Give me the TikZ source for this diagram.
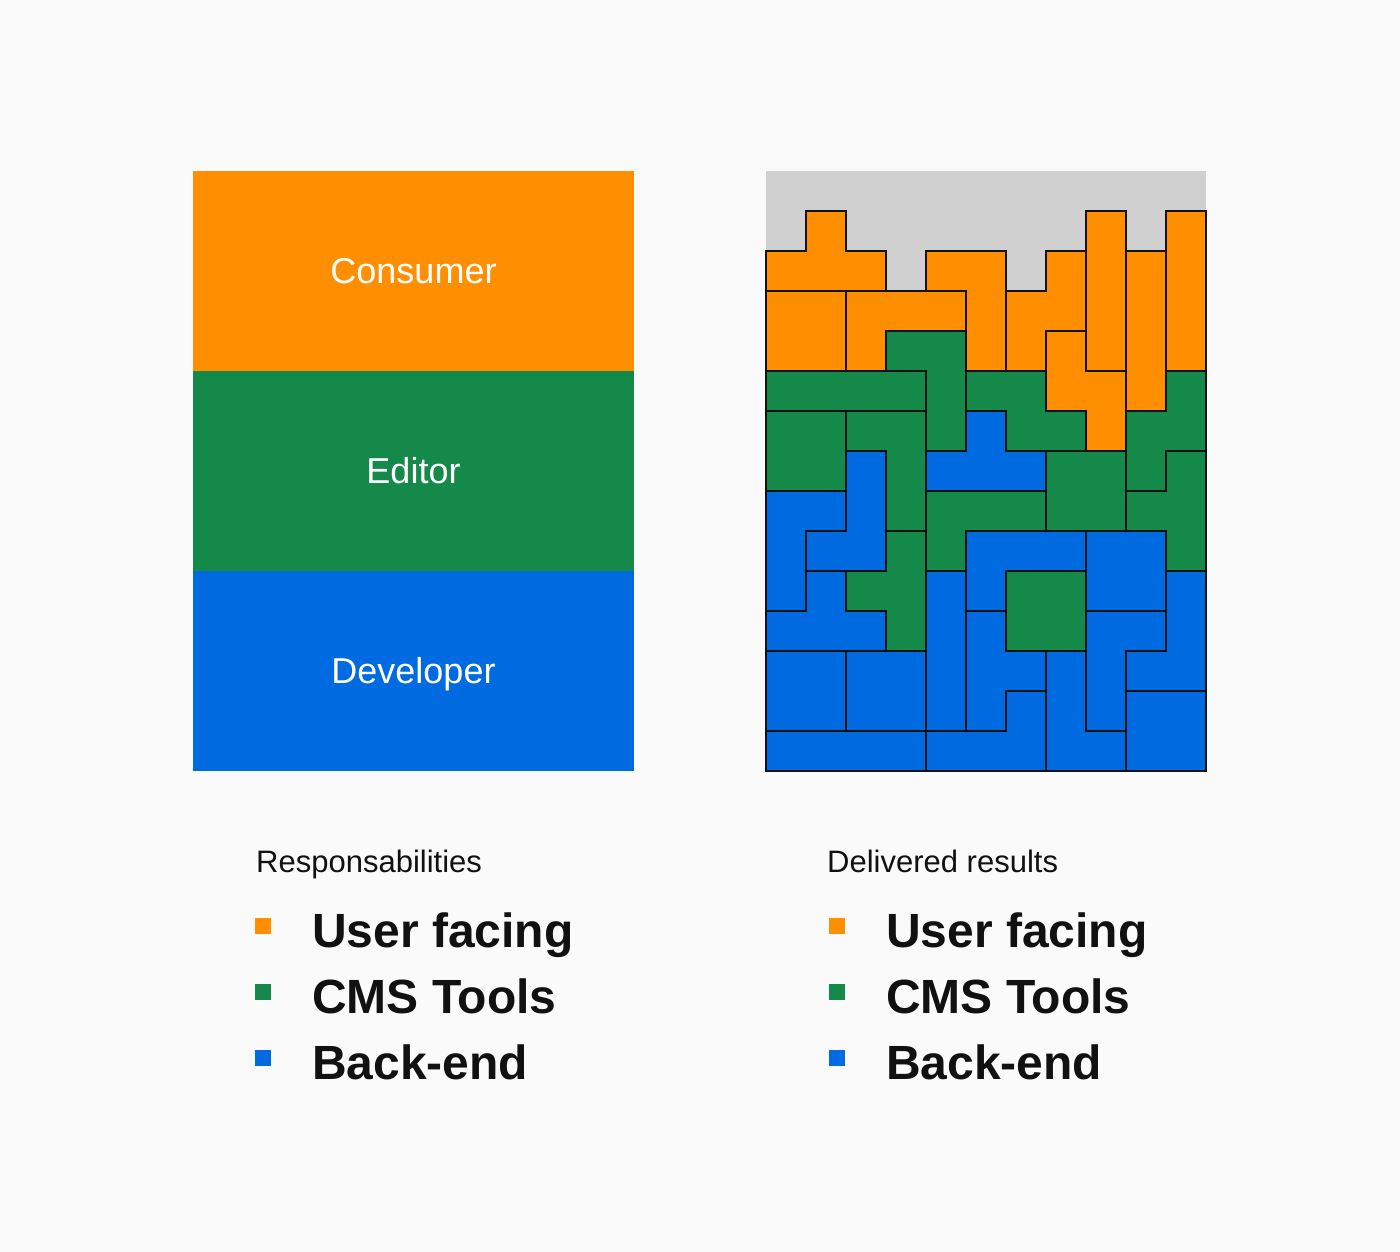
\documentclass[tikz,border=0pt]{standalone}
\usepackage{fontspec}
\setmainfont{Liberation Sans}
\definecolor{bg}{HTML}{FAFAFA}
\definecolor{ora}{HTML}{FF8F00}
\definecolor{grn}{HTML}{15894A}
\definecolor{blu}{HTML}{006AE0}
\definecolor{gry}{HTML}{D0D0D0}
\definecolor{ink}{HTML}{111111}
\begin{document}
\begin{tikzpicture}[x=1pt,y=-1pt,
  pc/.style={draw=ink,line width=1.4pt,line join=miter},
  po/.style={pc,fill=ora},
  pg/.style={pc,fill=grn},
  pb/.style={pc,fill=blu},
  band/.style={text=white,font=\fontsize{36}{36}\selectfont,anchor=base,inner sep=0pt},
  head/.style={text=ink,font=\fontsize{31}{31}\selectfont,anchor=base west,inner sep=0pt},
  item/.style={text=ink,font=\bfseries\fontsize{48}{48}\selectfont,anchor=base west,inner sep=0pt},
  sw/.style={minimum size=16pt,inner sep=0pt,outer sep=0pt,anchor=north west}]
\fill[bg] (0,0) rectangle (1400,1252);
\useasboundingbox (0,0) rectangle (1400,1252);
% left panel
\fill[ora] (193,171) rectangle (634,371);
\fill[grn] (193,371) rectangle (634,571);
\fill[blu] (193,571) rectangle (634,771);
\node[band] (consumer) at (413.5,283) {Consumer};
\node[band] (editor) at (413.5,483) {Editor};
\node[band] (developer) at (413.5,683) {Developer};
% right grid
\begin{scope}[shift={(766,171)},x=40pt,y=-40pt]
\fill[gry] (0,0) rectangle (11,15);
% orange
\draw[po] (1,1)--(2,1)--(2,2)--(3,2)--(3,3)--(0,3)--(0,2)--(1,2)--cycle;
\draw[po] (4,2)--(6,2)--(6,5)--(5,5)--(5,3)--(4,3)--cycle;
\draw[po] (0,3)--(2,3)--(2,5)--(0,5)--cycle;
\draw[po] (2,3)--(5,3)--(5,4)--(3,4)--(3,5)--(2,5)--cycle;
\draw[po] (7,2)--(8,2)--(8,4)--(7,4)--(7,5)--(6,5)--(6,3)--(7,3)--cycle;
\draw[po] (8,1)--(9,1)--(9,5)--(8,5)--cycle;
\draw[po] (9,2)--(10,2)--(10,6)--(9,6)--cycle;
\draw[po] (10,1)--(11,1)--(11,5)--(10,5)--cycle;
\draw[po] (7,4)--(8,4)--(8,5)--(9,5)--(9,7)--(8,7)--(8,6)--(7,6)--cycle;
% green
\draw[pg] (3,4)--(5,4)--(5,7)--(4,7)--(4,5)--(3,5)--cycle;
\draw[pg] (0,5)--(4,5)--(4,6)--(0,6)--cycle;
\draw[pg] (5,5)--(7,5)--(7,6)--(8,6)--(8,7)--(6,7)--(6,6)--(5,6)--cycle;
\draw[pg] (10,5)--(11,5)--(11,7)--(10,7)--(10,8)--(9,8)--(9,6)--(10,6)--cycle;
\draw[pg] (0,6)--(2,6)--(2,8)--(0,8)--cycle;
\draw[pg] (2,6)--(4,6)--(4,9)--(3,9)--(3,7)--(2,7)--cycle;
\draw[pg] (4,8)--(7,8)--(7,9)--(5,9)--(5,10)--(4,10)--cycle;
\draw[pg] (7,7)--(9,7)--(9,9)--(7,9)--cycle;
\draw[pg] (10,7)--(11,7)--(11,10)--(10,10)--(10,9)--(9,9)--(9,8)--(10,8)--cycle;
\draw[pg] (3,9)--(4,9)--(4,12)--(3,12)--(3,11)--(2,11)--(2,10)--(3,10)--cycle;
\draw[pg] (6,10)--(8,10)--(8,12)--(6,12)--cycle;
% blue
\draw[pb] (5,6)--(6,6)--(6,7)--(7,7)--(7,8)--(4,8)--(4,7)--(5,7)--cycle;
\draw[pb] (2,7)--(3,7)--(3,10)--(1,10)--(1,9)--(2,9)--cycle;
\draw[pb] (0,8)--(2,8)--(2,9)--(1,9)--(1,11)--(0,11)--cycle;
\draw[pb] (5,9)--(8,9)--(8,10)--(6,10)--(6,11)--(5,11)--cycle;
\draw[pb] (8,9)--(10,9)--(10,11)--(8,11)--cycle;
\draw[pb] (1,10)--(2,10)--(2,11)--(3,11)--(3,12)--(0,12)--(0,11)--(1,11)--cycle;
\draw[pb] (4,10)--(5,10)--(5,14)--(4,14)--cycle;
\draw[pb] (5,11)--(6,11)--(6,12)--(7,12)--(7,13)--(6,13)--(6,14)--(5,14)--cycle;
\draw[pb] (6,13)--(7,13)--(7,15)--(4,15)--(4,14)--(6,14)--cycle;
\draw[pb] (7,12)--(8,12)--(8,14)--(9,14)--(9,15)--(7,15)--cycle;
\draw[pb] (8,11)--(10,11)--(10,12)--(9,12)--(9,14)--(8,14)--cycle;
\draw[pb] (10,10)--(11,10)--(11,13)--(9,13)--(9,12)--(10,12)--cycle;
\draw[pb] (9,13)--(11,13)--(11,15)--(9,15)--cycle;
\draw[pb] (0,12)--(2,12)--(2,14)--(0,14)--cycle;
\draw[pb] (2,12)--(4,12)--(4,14)--(2,14)--cycle;
\draw[pb] (0,14)--(4,14)--(4,15)--(0,15)--cycle;
\end{scope}
% legends
\node[head] (lhead) at (256,872) {Responsabilities};
\node[sw,fill=ora] (lsw1) at (255,918) {};
\node[sw,fill=grn] (lsw2) at (255,984) {};
\node[sw,fill=blu] (lsw3) at (255,1050) {};
\node[item] (lit1) at (312,947) {User facing};
\node[item] (lit2) at (312,1013) {CMS Tools};
\node[item] (lit3) at (312,1079) {Back-end};
\node[head] (rhead) at (827,872) {Delivered results};
\node[sw,fill=ora] (rsw1) at (829,918) {};
\node[sw,fill=grn] (rsw2) at (829,984) {};
\node[sw,fill=blu] (rsw3) at (829,1050) {};
\node[item] (rit1) at (886,947) {User facing};
\node[item] (rit2) at (886,1013) {CMS Tools};
\node[item] (rit3) at (886,1079) {Back-end};
\end{tikzpicture}
\end{document}
